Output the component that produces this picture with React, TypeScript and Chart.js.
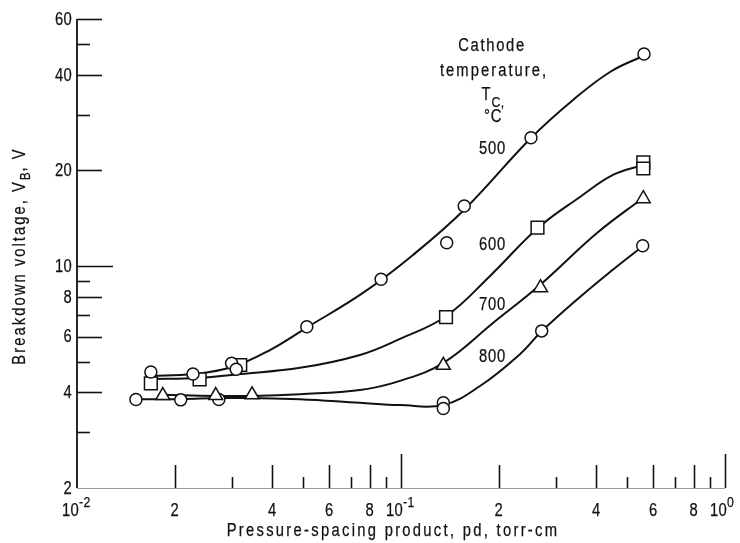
import React, { useEffect, useRef } from "react";
import { Chart, registerables } from "chart.js";

Chart.register(...registerables);

// Cathode temperatures, °C (curve labels)
const TEMPERATURES = ["500", "600", "700", "800"];

// Measured breakdown points: pressure-spacing product pd (torr-cm) and V_B (V)
const pd500 = [0.0169, 0.0228, 0.03, 0.031, 0.0512, 0.0868, 0.1384, 0.1567, 0.2519, 0.5623];
const vb500 = [4.64, 4.57, 4.94, 4.73, 6.44, 9.09, 11.85, 15.46, 25.37, 46.55];
const pd600 = [0.0169, 0.0239, 0.0319, 0.1377, 0.2638, 0.5595, 0.5595];
const vb600 = [4.27, 4.4, 4.88, 6.91, 13.21, 21.2, 20.29];
const pd700 = [0.0184, 0.0268, 0.0347, 0.1351, 0.2695, 0.5595];
const vb700 = [3.91, 3.91, 3.93, 4.87, 8.55, 16.3];
const pd800 = [0.0152, 0.0209, 0.0274, 0.1351, 0.1351, 0.2718, 0.5572];
const vb800 = [3.8, 3.79, 3.8, 3.71, 3.56, 6.25, 11.59];

// Faired curves drawn through each temperature's data
const curve500x = [0.0168, 0.0228, 0.0301, 0.0394, 0.0509, 0.0763, 0.1089, 0.1564, 0.2519, 0.3396, 0.4417, 0.5583];
const curve500y = [4.51, 4.57, 4.81, 5.44, 6.38, 8.23, 10.84, 15.02, 25.32, 33.36, 40.86, 45.88];
const curve600x = [0.0168, 0.0238, 0.0319, 0.0488, 0.0747, 0.0993, 0.1377, 0.1883, 0.2647, 0.3568, 0.4511, 0.5583];
const curve600y = [4.41, 4.44, 4.57, 4.78, 5.25, 5.9, 6.95, 9.31, 13.18, 16.5, 19.36, 20.81];
const curve700x = [0.0184, 0.0269, 0.0347, 0.0488, 0.0747, 0.0993, 0.1348, 0.1923, 0.2685, 0.4026, 0.5583];
const curve700y = [3.93, 3.9, 3.9, 3.95, 4.07, 4.35, 4.95, 6.62, 8.72, 12.71, 16.39];
const curve800x = [0.0152, 0.0209, 0.0274, 0.0347, 0.0488, 0.0747, 0.0993, 0.1348, 0.1753, 0.2329, 0.2704, 0.3568, 0.4417, 0.5583];
const curve800y = [3.81, 3.81, 3.84, 3.84, 3.81, 3.71, 3.65, 3.65, 4.19, 5.28, 6.2, 7.99, 9.58, 11.57];

// Axis ranges, tick marks and labelled ticks
const X_MIN = 0.01;
const X_MAX = 1;
const Y_MIN = 2;
const Y_MAX = 60;
const X_TICKS = [0.02, 0.03, 0.04, 0.05, 0.06, 0.07, 0.08, 0.09, 0.1, 0.2, 0.3, 0.4, 0.5, 0.6, 0.7, 0.8, 0.9, 1];
const X_LABELS = [0.01, 0.02, 0.04, 0.06, 0.08, 0.1, 0.2, 0.4, 0.6, 0.8, 1];
const Y_TICKS = [3, 4, 5, 6, 7, 8, 9, 10, 20, 30, 40, 50, 60];
const Y_LABELS = [2, 4, 6, 8, 10, 20, 40, 60];

const FONT = '"Liberation Sans", Arial, sans-serif';
const SQUEEZE = 0.82; // condensed lettering
const INK = "#111";

type Run = { text: string; size: number; dy?: number; spacing?: number };

function drawRuns(ctx: CanvasRenderingContext2D, runs: Run[], x: number, y: number, align: "left" | "center" | "right") {
  const widths = runs.map((r) => {
    ctx.font = `${r.size}px ${FONT}`;
    (ctx as any).letterSpacing = `${r.spacing ?? 0}px`;
    return ctx.measureText(r.text).width * SQUEEZE;
  });
  const total = widths.reduce((a, b) => a + b, 0);
  let cx = align === "left" ? x : align === "center" ? x - total / 2 : x - total;
  ctx.textAlign = "left";
  ctx.textBaseline = "middle";
  ctx.lineWidth = 0.25;
  ctx.strokeStyle = INK;
  runs.forEach((r, i) => {
    ctx.font = `${r.size}px ${FONT}`;
    (ctx as any).letterSpacing = `${r.spacing ?? 0}px`;
    ctx.save();
    ctx.translate(cx, y + (r.dy ?? 0));
    ctx.scale(SQUEEZE, 1);
    ctx.fillText(r.text, 0, 0);
    ctx.strokeText(r.text, 0, 0);
    ctx.restore();
    cx += widths[i];
  });
  (ctx as any).letterSpacing = "0px";
}

function mantissa(v: number) {
  const e = Math.floor(Math.log10(v) + 1e-9);
  return { m: Math.round(v / Math.pow(10, e)), e };
}

const paperAxes = {
  id: "paperAxes",
  afterDraw(chart: any) {
    const { ctx } = chart;
    const xs = chart.scales.x;
    const ys = chart.scales.y;
    const left = xs.getPixelForValue(X_MIN);
    const right = xs.getPixelForValue(X_MAX);
    const top = ys.getPixelForValue(Y_MAX);
    const bottom = ys.getPixelForValue(Y_MIN);

    ctx.save();
    ctx.strokeStyle = INK;
    ctx.fillStyle = INK;
    ctx.lineCap = "butt";

    // vertical axis
    ctx.lineWidth = 1.8;
    ctx.beginPath();
    ctx.moveTo(left, top);
    ctx.lineTo(left, bottom);
    ctx.stroke();

    // faint horizontal axis
    ctx.lineWidth = 1;
    ctx.strokeStyle = "#9a9a9a";
    ctx.beginPath();
    ctx.moveTo(left, bottom + 0.5);
    ctx.lineTo(right, bottom + 0.5);
    ctx.stroke();
    ctx.strokeStyle = INK;

    // y ticks (pointing inward)
    ctx.lineWidth = 1.6;
    Y_TICKS.forEach((v) => {
      const { m } = mantissa(v);
      const len = v === 10 ? 36 : m % 2 === 0 ? 25 : 13;
      const py = Math.round(ys.getPixelForValue(v)) + 0.5;
      ctx.beginPath();
      ctx.moveTo(left, py);
      ctx.lineTo(left + len, py);
      ctx.stroke();
    });

    // x ticks (pointing upward)
    X_TICKS.forEach((v) => {
      const { m } = mantissa(v);
      const len = m === 1 ? 34 : m % 2 === 0 ? 23 : 11;
      const px = Math.round(xs.getPixelForValue(v)) + 0.5;
      ctx.beginPath();
      ctx.moveTo(px, bottom);
      ctx.lineTo(px, bottom - len);
      ctx.stroke();
    });

    // y tick labels
    Y_LABELS.forEach((v) => {
      const py = ys.getPixelForValue(v) + 1;
      drawRuns(ctx, [{ text: String(v), size: 18, spacing: 0.3 }], left - 5, py, "right");
    });

    // x tick labels
    const labelY = bottom + 23;
    X_LABELS.forEach((v) => {
      const { m, e } = mantissa(v);
      const px = xs.getPixelForValue(v);
      if (m === 1) {
        ctx.font = `18px ${FONT}`;
        (ctx as any).letterSpacing = "0.3px";
        const w = ctx.measureText("10").width * SQUEEZE;
        drawRuns(
          ctx,
          [
            { text: "10", size: 18, spacing: 0.3 },
            { text: e === 0 ? "0" : `-${Math.abs(e)}`, size: 15, dy: -8, spacing: 0.5 },
          ],
          px + 2 - w,
          labelY,
          "left"
        );
      } else {
        drawRuns(ctx, [{ text: String(m), size: 18 }], px, labelY, "center");
      }
    });

    // axis titles
    drawRuns(ctx, [{ text: "Pressure-spacing product, pd, torr-cm", size: 18, spacing: 2.8 }], 393, 531, "center");

    ctx.save();
    ctx.translate(20, 256);
    ctx.rotate(-Math.PI / 2);
    drawRuns(
      ctx,
      [
        { text: "Breakdown voltage, V", size: 18, spacing: 2.5 },
        { text: "B", size: 14, dy: 6, spacing: 1 },
        { text: ", V", size: 18, spacing: 2.5 },
      ],
      0,
      0,
      "center"
    );
    ctx.restore();

    // key heading
    const kx = xs.getPixelForValue(0.191);
    drawRuns(ctx, [{ text: "Cathode", size: 18, spacing: 2.1 }], kx, 46, "center");
    drawRuns(ctx, [{ text: "temperature,", size: 18, spacing: 2.5 }], kx + 2, 71, "center");
    drawRuns(
      ctx,
      [
        { text: "T", size: 18, spacing: 1 },
        { text: "C,", size: 15, dy: 8, spacing: 0.5 },
      ],
      kx + 1,
      95,
      "center"
    );
    drawRuns(ctx, [{ text: "°C", size: 18, spacing: 1 }], kx + 1, 117, "center");

    // temperature labels beside the curves
    const labelRows = [149.5, 245.5, 305, 357.5];
    TEMPERATURES.forEach((t, i) => {
      drawRuns(ctx, [{ text: t, size: 18, spacing: 1 }], kx + 0.5, labelRows[i], "center");
    });

    ctx.restore();
  },
};

const zip = (xs: number[], ys: number[]) => xs.map((x, i) => ({ x, y: ys[i] }));

function curve(xs: number[], ys: number[]) {
  return {
    data: zip(xs, ys),
    borderColor: INK,
    borderWidth: 2,
    pointRadius: 0,
    fill: false,
    tension: 0.4,
    order: 2,
  };
}

function markers(xs: number[], ys: number[], style: string, radius: number) {
  return {
    data: zip(xs, ys),
    showLine: false,
    pointStyle: style,
    pointRadius: radius,
    pointBorderWidth: 1.5,
    pointBorderColor: INK,
    pointBackgroundColor: "#fff",
    order: 1,
  };
}

export default function App() {
  const canvasRef = useRef<HTMLCanvasElement | null>(null);

  useEffect(() => {
    const canvas = canvasRef.current;
    if (!canvas) return;
    const chart = new Chart(canvas, {
      type: "line",
      data: {
        datasets: [
          curve(curve500x, curve500y),
          curve(curve600x, curve600y),
          curve(curve700x, curve700y),
          curve(curve800x, curve800y),
          markers(pd500, vb500, "circle", 6),
          markers(pd600, vb600, "rect", 9),
          markers(pd700, vb700, "triangle", 8),
          markers(pd800, vb800, "circle", 6),
        ] as any,
      },
      options: {
        animation: false,
        responsive: false,
        devicePixelRatio: 1,
        events: [],
        layout: { padding: { left: 77, right: 15, top: 19, bottom: 55 } },
        plugins: { legend: { display: false }, tooltip: { enabled: false } },
        scales: {
          x: { type: "logarithmic", min: X_MIN, max: X_MAX, display: false },
          y: { type: "logarithmic", min: Y_MIN, max: Y_MAX, display: false },
        },
      },
      plugins: [paperAxes],
    });
    return () => chart.destroy();
  }, []);

  return (
    <div style={{ position: "fixed", left: 0, top: 0, width: 740, height: 543, background: "#fff" }}>
      <canvas ref={canvasRef} width={740} height={543} style={{ display: "block" }} />
    </div>
  );
}
